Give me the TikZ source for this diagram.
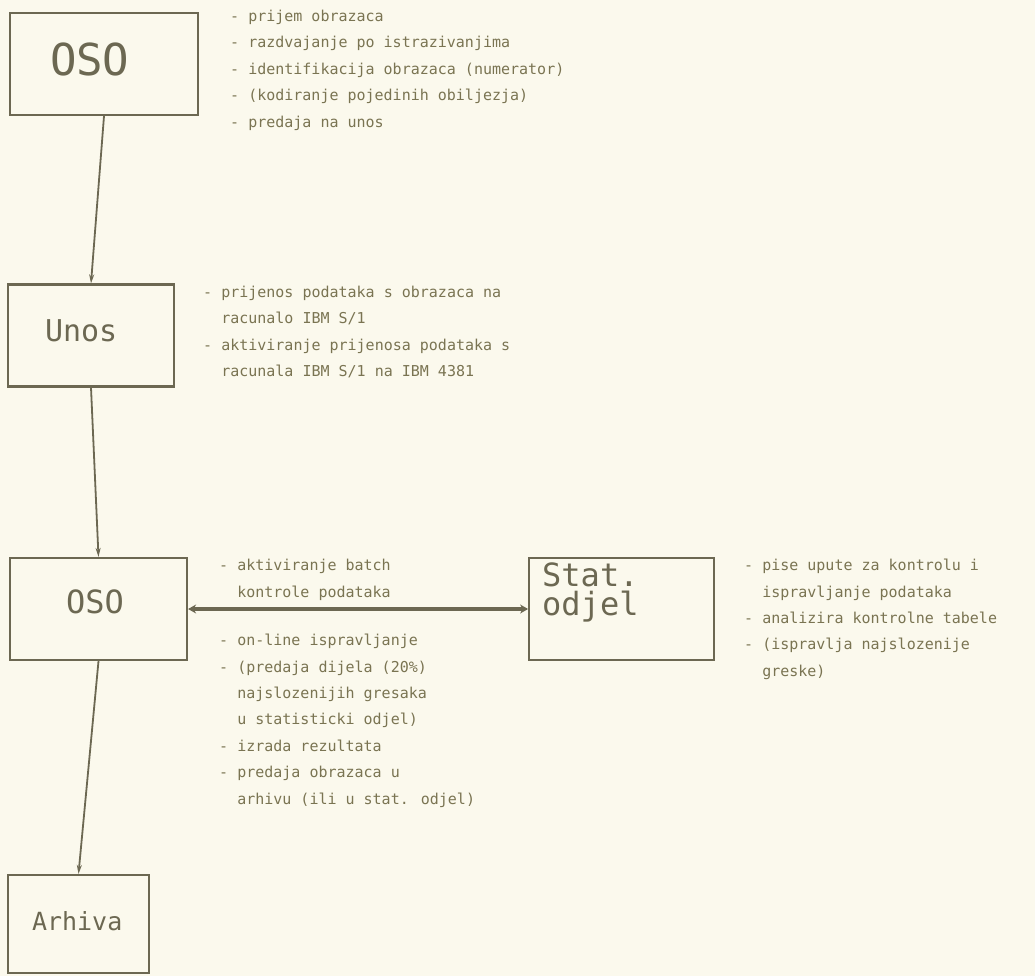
\documentclass[tikz,border=0pt]{standalone}
\usepackage{fontspec}
\newfontfamily\plotfont{DejaVu Sans Mono}
\definecolor{ink}{RGB}{108,104,82}
\definecolor{type}{RGB}{122,116,82}
\definecolor{paper}{RGB}{251,249,237}
\usetikzlibrary{arrows.meta,positioning}
\newcommand{\boxfont}[2]{\plotfont\fontsize{#1}{#2}\selectfont}
\newcommand{\ind}{\hphantom{- }}
\tikzset{
  box/.style={draw=ink,line width=2.2pt,align=left,minimum height=102pt,
              text=ink,inner ysep=0pt},
  arr/.style={-{Stealth[length=9pt,width=5pt]},line width=1.8pt,draw=ink},
  both/.style={{Stealth[length=8pt,width=9pt]}-{Stealth[length=8pt,width=9pt]},
               line width=4pt,draw=ink},
  note/.style={font=\boxfont{15}{26.4},text=type,align=left,inner sep=0pt,
               anchor=north west},
}
\begin{document}
\begin{tikzpicture}[x=1pt,y=-1pt]
    \fill[paper] (0,0) rectangle (1035,976);
    \useasboundingbox (0,0) rectangle (1035,976);
    % boxes
    \node[box,minimum width=188pt,text width=108pt,inner xsep=40pt,text depth=10pt,
          font=\boxfont{44}{48}] (oso1) at (104,64) {OSO};
    \node[box,minimum width=166pt,text width=92pt,inner xsep=37pt,text depth=9pt,
          font=\boxfont{30}{34}] (unos) at (91,335.5) {Unos};
    \node[box,minimum width=177pt,text width=65pt,inner xsep=56pt,text depth=15pt,
          font=\boxfont{32}{36}] (oso2) at (98.5,609) {OSO};
    \node[box,right=340pt of oso2,minimum width=185pt,text width=159pt,
          inner xsep=13pt,text depth=68pt,font=\boxfont{32}{29}] (stat) {Stat.\\odjel};
    \node[box,minimum width=141pt,minimum height=98pt,text width=93pt,
          inner xsep=24pt,text depth=6pt,font=\boxfont{25}{29}] (arhiva) at (78.5,924) {Arhiva};
    % notes
    \node[note] (prijem) at (230,10)
      {- prijem obrazaca\\
       - razdvajanje po istrazivanjima\\
       - identifikacija obrazaca (numerator)\\
       - (kodiranje pojedinih obiljezja)\\
       - predaja na unos};
    \node[note] (prijenos) at (203,286)
      {- prijenos podataka s obrazaca na\\
       \ind racunalo IBM S/1\\
       - aktiviranje prijenosa podataka s\\
       \ind racunala IBM S/1 na IBM 4381};
    \node[note] (batch) at (219,559)
      {- aktiviranje batch\\
       \ind kontrole podataka};
    \node[note] (online) at (219,634)
      {- on-line ispravljanje\\
       - (predaja dijela (20\%)\\
       \ind najslozenijih gresaka\\
       \ind u statisticki odjel)\\
       - izrada rezultata\\
       - predaja obrazaca u\\
       \ind arhivu (ili u stat. odjel)};
    \node[note] (upute) at (744,559)
      {- pise upute za kontrolu i\\
       \ind ispravljanje podataka\\
       - analizira kontrolne tabele\\
       - (ispravlja najslozenije\\
       \ind greske)};
    % flow
    \draw[arr] (oso1.south) -- (unos.north);
    \draw[arr] (unos.south) -- (oso2.north);
    \draw[arr] (oso2.south) -- (arhiva.north);
    \draw[both] (oso2) -- (stat);
\end{tikzpicture}
\end{document}
